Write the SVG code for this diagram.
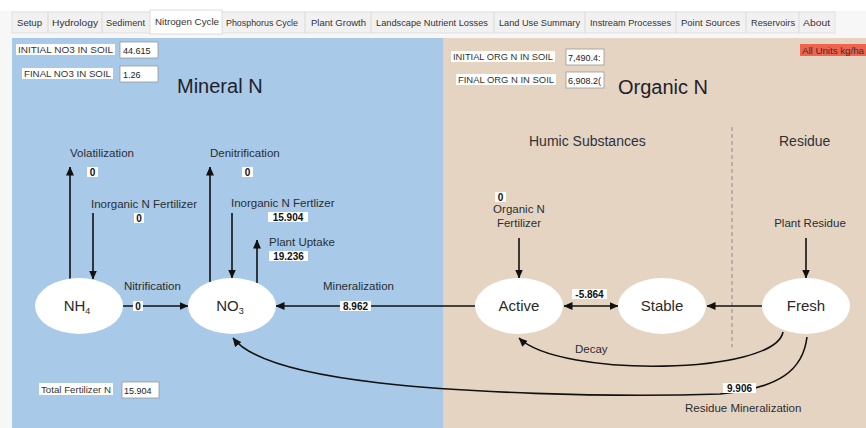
<svg xmlns="http://www.w3.org/2000/svg" width="866" height="428" viewBox="0 0 866 428">
<defs>
<style>
text{font-family:"Liberation Sans",Arial,sans-serif;fill:#2e3238}
.tab{font-size:9.5px;fill:#333}
.lbl{font-size:11.5px;fill:#2a2e34}
.val{font-size:10px;font-weight:bold;fill:#111;text-anchor:middle}
.vbox{fill:#fff}
.small{font-size:9.5px;fill:#333}
.ibox{fill:#fff;stroke:#9a9a9a;stroke-width:0.8}
.ivt{font-size:9px;fill:#222}
.node{fill:#fff}
.ntxt{font-size:15px;text-anchor:middle;fill:#2a2a2a}
.head{font-size:14px}
.big{font-size:20px;fill:#1e2228}
.ln{stroke:#111;stroke-width:1.6;fill:none}
</style>
<marker id="ah" markerWidth="9" markerHeight="8" refX="8.5" refY="4" orient="auto" markerUnits="userSpaceOnUse">
<path d="M0,0 L9,4 L0,8 z" fill="#111"/>
</marker>
<marker id="as" markerWidth="9" markerHeight="8" refX="0.5" refY="4" orient="auto" markerUnits="userSpaceOnUse">
<path d="M9,0 L0,4 L9,8 z" fill="#111"/>
</marker>
</defs>

<!-- window background -->
<rect x="0" y="0" width="866" height="428" fill="#f7f7f7"/>
<rect x="0" y="0" width="866" height="11" fill="#fff"/>

<!-- tabs -->
<g id="tabs">
<rect x="12" y="12" width="823" height="21" fill="#f1f1f1" stroke="#dcdcdc" stroke-width="0.8"/>
<g stroke="#d4d4d4" stroke-width="0.8">
<line x1="48" y1="12" x2="48" y2="33"/><line x1="102" y1="12" x2="102" y2="33"/>
<line x1="305" y1="12" x2="305" y2="33"/><line x1="371" y1="12" x2="371" y2="33"/>
<line x1="494" y1="12" x2="494" y2="33"/><line x1="585" y1="12" x2="585" y2="33"/>
<line x1="676" y1="12" x2="676" y2="33"/><line x1="746" y1="12" x2="746" y2="33"/>
<line x1="799" y1="12" x2="799" y2="33"/>
</g>
<rect x="150" y="10" width="72" height="24" fill="#fff" stroke="#d4d4d4" stroke-width="0.8"/>
<g lengthAdjust="spacingAndGlyphs">
<text class="tab" x="17" y="26" textLength="25" lengthAdjust="spacingAndGlyphs">Setup</text>
<text class="tab" x="52" y="26" textLength="46" lengthAdjust="spacingAndGlyphs">Hydrology</text>
<text class="tab" x="106" y="26" textLength="39" lengthAdjust="spacingAndGlyphs">Sediment</text>
<text class="tab" x="155" y="25" textLength="64" lengthAdjust="spacingAndGlyphs">Nitrogen Cycle</text>
<text class="tab" x="226" y="26" textLength="72" lengthAdjust="spacingAndGlyphs">Phosphorus Cycle</text>
<text class="tab" x="311" y="26" textLength="55" lengthAdjust="spacingAndGlyphs">Plant Growth</text>
<text class="tab" x="376" y="26" textLength="112" lengthAdjust="spacingAndGlyphs">Landscape Nutrient Losses</text>
<text class="tab" x="499" y="26" textLength="81" lengthAdjust="spacingAndGlyphs">Land Use Summary</text>
<text class="tab" x="590" y="26" textLength="81" lengthAdjust="spacingAndGlyphs">Instream Processes</text>
<text class="tab" x="681" y="26" textLength="59" lengthAdjust="spacingAndGlyphs">Point Sources</text>
<text class="tab" x="751" y="26" textLength="44" lengthAdjust="spacingAndGlyphs">Reservoirs</text>
<text class="tab" x="803" y="26" textLength="27" lengthAdjust="spacingAndGlyphs">About</text>
</g>
</g>

<!-- panels -->
<rect x="12" y="38" width="431" height="390" fill="#a8c9e7"/>
<rect x="443" y="38" width="423" height="390" fill="#e6d4c3"/>

<!-- info boxes -->
<g id="info">
<rect x="16" y="44" width="99" height="11" fill="#fff"/>
<text class="small" x="18" y="53" textLength="95" lengthAdjust="spacingAndGlyphs">INITIAL NO3 IN SOIL</text>
<rect class="ibox" x="120" y="42" width="38" height="16"/>
<text class="ivt" x="123" y="53.5">44.615</text>
<rect x="22" y="68" width="91" height="11" fill="#fff"/>
<text class="small" x="24" y="77" textLength="87" lengthAdjust="spacingAndGlyphs">FINAL NO3 IN SOIL</text>
<rect class="ibox" x="120" y="66" width="38" height="16"/>
<text class="ivt" x="123" y="77.5">1.26</text>
<text class="big" x="177" y="93">Mineral N</text>

<rect x="451" y="51" width="104" height="11" fill="#fff"/>
<text class="small" x="453" y="60" textLength="100" lengthAdjust="spacingAndGlyphs">INITIAL ORG N IN SOIL</text>
<rect class="ibox" x="566" y="49" width="38" height="16"/>
<text class="ivt" x="568" y="60.5">7,490.4:</text>
<rect x="456" y="74" width="100" height="11" fill="#fff"/>
<text class="small" x="458" y="83" textLength="96" lengthAdjust="spacingAndGlyphs">FINAL ORG N IN SOIL</text>
<rect class="ibox" x="566" y="72" width="38" height="16"/>
<text class="ivt" x="568" y="83.5">6,908.2(</text>
<text class="big" x="618" y="94">Organic N</text>

<rect x="800" y="44" width="66" height="12" fill="#f0634c"/>
<text x="802" y="53.5" font-size="9" fill="#3a1010" textLength="62" lengthAdjust="spacingAndGlyphs">All Units kg/ha</text>

<rect x="39" y="383" width="74" height="12" fill="#fff"/>
<text class="small" x="41" y="392.5" textLength="70" lengthAdjust="spacingAndGlyphs">Total Fertilizer N</text>
<rect class="ibox" x="122" y="382" width="37" height="16"/>
<text class="ivt" x="124" y="393.5">15.904</text>
</g>

<!-- section headers -->
<text class="head" x="529" y="146">Humic Substances</text>
<text class="head" x="779" y="146">Residue</text>
<line x1="732" y1="127" x2="732" y2="347" stroke="#8a8a8a" stroke-width="1" stroke-dasharray="4,3"/>

<!-- connectors -->
<g id="connectors">
<line class="ln" x1="70" y1="279" x2="70" y2="167" marker-end="url(#ah)"/>
<line class="ln" x1="93" y1="213" x2="93" y2="279" marker-end="url(#ah)"/>
<line class="ln" x1="210" y1="282" x2="210" y2="167" marker-end="url(#ah)"/>
<line class="ln" x1="232" y1="213" x2="232" y2="278" marker-end="url(#ah)"/>
<line class="ln" x1="257" y1="283" x2="257" y2="240" marker-end="url(#ah)"/>
<line class="ln" x1="123" y1="306" x2="188" y2="306" marker-end="url(#ah)"/>
<line class="ln" x1="475" y1="306" x2="276" y2="306" marker-end="url(#ah)"/>
<line class="ln" x1="564" y1="306" x2="618" y2="306" marker-start="url(#as)" marker-end="url(#ah)"/>
<line class="ln" x1="762" y1="306" x2="707" y2="306" marker-end="url(#ah)"/>
<line class="ln" x1="519" y1="238" x2="519" y2="278" marker-end="url(#ah)"/>
<line class="ln" x1="806" y1="238" x2="806" y2="278" marker-end="url(#ah)"/>
<path class="ln" d="M783,332 C775,375 560,378 519,338" marker-end="url(#ah)"/>
<path class="ln" d="M807,337 C803,370 780,388 720,394 C600,398 460,392 380,383 C300,374 250,360 233,338" marker-end="url(#ah)"/>
</g>

<!-- connector labels -->
<g id="labels">
<text class="lbl" x="70" y="157">Volatilization</text>
<rect class="vbox" x="87" y="167" width="11" height="10"/><text class="val" x="92.5" y="175.5">0</text>
<text class="lbl" x="91" y="208">Inorganic N Fertilizer</text>
<rect class="vbox" x="134" y="213" width="10" height="10"/><text class="val" x="139" y="221.5">0</text>
<text class="lbl" x="210" y="157">Denitrification</text>
<rect class="vbox" x="242" y="167" width="11" height="10"/><text class="val" x="247.5" y="175.5">0</text>
<text class="lbl" x="231" y="207">Inorganic N Fertlizer</text>
<rect class="vbox" x="268" y="212" width="40" height="10"/><text class="val" x="288" y="220.5">15.904</text>
<text class="lbl" x="269" y="246">Plant Uptake</text>
<rect class="vbox" x="269" y="251" width="39" height="10"/><text class="val" x="288.5" y="259.5">19.236</text>
<text class="lbl" x="124" y="290">Nitrification</text>
<rect class="vbox" x="133" y="301" width="10" height="10"/><text class="val" x="138" y="309.5">0</text>
<text class="lbl" x="323" y="290">Mineralization</text>
<rect class="vbox" x="340" y="301" width="31" height="10"/><text class="val" x="355.5" y="309.5">8.962</text>
<rect class="vbox" x="572" y="289" width="35" height="10"/><text class="val" x="589.5" y="297.5">-5.864</text>
<text class="lbl" x="575" y="353">Decay</text>
<rect class="vbox" x="723" y="383" width="33" height="10"/><text class="val" x="739.5" y="391.5">9.906</text>
<text class="lbl" x="685" y="412">Residue Mineralization</text>
<rect class="vbox" x="495" y="192" width="11" height="10"/><text class="val" x="500.5" y="200.5">0</text>
<text class="lbl" x="519" y="213" text-anchor="middle">Organic N</text>
<text class="lbl" x="519" y="227" text-anchor="middle">Fertilizer</text>
<text class="lbl" x="810" y="227" text-anchor="middle">Plant Residue</text>
</g>

<!-- nodes -->
<g id="NH4"><ellipse class="node" cx="79" cy="306" rx="44" ry="28"/><text class="ntxt" x="77" y="311">NH<tspan font-size="9" dy="3">4</tspan></text></g>
<g id="NO3"><ellipse class="node" cx="232" cy="306" rx="44" ry="28"/><text class="ntxt" x="230" y="311">NO<tspan font-size="9" dy="3">3</tspan></text></g>
<g id="Active"><ellipse class="node" cx="519" cy="306" rx="44" ry="28"/><text class="ntxt" x="519" y="311">Active</text></g>
<g id="Stable"><ellipse class="node" cx="662" cy="306" rx="44" ry="28"/><text class="ntxt" x="662" y="311">Stable</text></g>
<g id="Fresh"><ellipse class="node" cx="806" cy="306" rx="44" ry="28"/><text class="ntxt" x="806" y="311">Fresh</text></g>
</svg>
